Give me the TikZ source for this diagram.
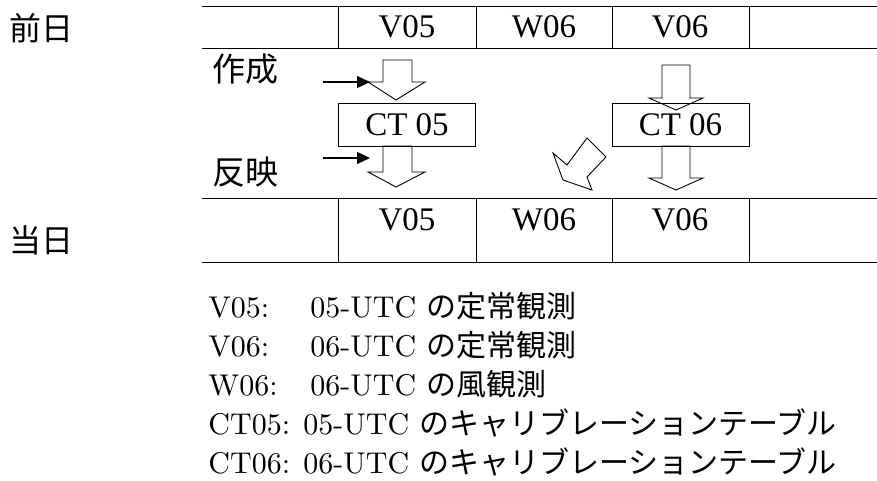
\documentclass[tikz,border=0pt]{standalone}
\usepackage{fontspec}
\newfontfamily\tnr{Liberation Serif}
\newfontfamily\jpf{Noto Sans CJK JP}
\newfontfamily\lmten{lmroman10-regular.otf}
\usetikzlibrary{arrows.meta}
\begin{document}
\begin{tikzpicture}[x=1pt,y=-1pt,line width=0.9pt,
  cell/.style={font={\tnr\fontsize{33}{33}\selectfont},anchor=base,inner sep=0pt},
  ctbox/.style={draw,font={\tnr\fontsize{33}{33}\selectfont},inner sep=0pt,minimum width=137pt,minimum height=43pt},
  jlab/.style={font={\jpf\fontsize{33}{33}\selectfont},anchor=base west,inner sep=0pt},
  legl/.style={font={\lmten\fontsize{30}{30}\selectfont},anchor=base west,inner sep=0pt},
  hollow/.style={draw,line width=0.9pt,line join=miter},
  smallarrow/.style={line width=1.2pt,-{Triangle[length=13pt,width=12pt]}}]
\useasboundingbox (0,0) rectangle (877,481);
% table rows
\draw (202,6) -- (877,6);
\draw (202,48) -- (877,48);
\draw (202,198) -- (877,198);
\draw (202,262) -- (877,262);
\foreach \x in {338,476,612,749} {
  \draw (\x,6) -- (\x,48);
  \draw (\x,198) -- (\x,262);
}
\node[cell] (tv05) at (407,38) {V05};
\node[cell] (tw06) at (544,38) {W06};
\node[cell] (tv06) at (680,38) {V06};
\node[cell] (bv05) at (407,230) {V05};
\node[cell] (bw06) at (544,230) {W06};
\node[cell] (bv06) at (680,230) {V06};
% day labels
\node[jlab,font={\jpf\fontsize{32}{32}\selectfont}] (zen) at (9,41) {前日};
\node[jlab,font={\jpf\fontsize{32}{32}\selectfont}] (tou) at (9,252) {当日};
\node[jlab] (sak) at (212,82) {作成};
\node[jlab] (han) at (212,185) {反映};
% CT boxes
\node[ctbox] (ct05) at (407,125) {CT 05};
\node[ctbox] (ct06) at (680.5,125) {CT 06};
% hollow arrows
\draw[hollow] (383,60) -- (412,60) -- (412,82) -- (425,82) -- (396,100) -- (368,82) -- (383,82) -- cycle;
\draw[hollow] (383,146) -- (412,146) -- (412,172) -- (425,172) -- (396,187) -- (368,172) -- (383,172) -- cycle;
\draw[hollow] (662,65) -- (690,65) -- (690,98) -- (703,98) -- (676,110) -- (649,98) -- (662,98) -- cycle;
\draw[hollow] (662,146) -- (690,146) -- (690,178) -- (703,178) -- (676,190) -- (649,178) -- (662,178) -- cycle;
\draw[hollow] (587,138) -- (606,157) -- (587,177) -- (592,190) -- (563,180) -- (553,153) -- (567,165) -- cycle;
% small arrows
\coordinate (s1a) at (323,82);
\coordinate (s1b) at (370,82);
\coordinate (s2a) at (323,158);
\coordinate (s2b) at (370,158);
\draw[smallarrow] (s1a) -- (s1b);
\draw[smallarrow] (s2a) -- (s2b);
% legend
\node[legl] (l1a) at (208,317) {V05:};
\node[legl] (l1b) at (310,317) {05-UTC {\jpf の定常観測}};
\node[legl] (l2a) at (208,356) {V06:};
\node[legl] (l2b) at (310,356) {06-UTC {\jpf の定常観測}};
\node[legl] (l3a) at (208,395) {W06:};
\node[legl] (l3b) at (310,395) {06-UTC {\jpf の風観測}};
\node[legl] (l4) at (208,434) {CT05: 05-UTC {\jpf のキャリブレーションテーブル}};
\node[legl] (l5) at (208,473) {CT06: 06-UTC {\jpf のキャリブレーションテーブル}};
\end{tikzpicture}
\end{document}
